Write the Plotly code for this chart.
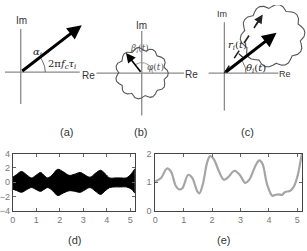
import numpy as np
import plotly.graph_objects as go

# ---------------- data ----------------
# (d) envelope of the dense oscillating signal
t_d = [0.0, 0.15, 0.37, 0.58, 0.79, 0.98, 1.18, 1.33, 1.49, 1.7, 1.91, 2.15, 2.4, 2.62, 2.87, 3.08, 3.29, 3.5, 3.74, 3.93, 4.13, 4.35, 4.6, 4.85, 5.07, 5.24]
d_upper = [0.7, 1.05, 1.5, 1.05, 0.6, 0.95, 1.36, 0.95, 0.6, 1.1, 1.8, 1.45, 0.96, 1.1, 1.36, 1.0, 0.7, 1.2, 1.67, 1.2, 0.6, 0.6, 0.6, 0.62, 1.27, 1.94]
d_lower = [-0.96, -1.15, -1.4, -1.05, -0.74, -1.0, -1.27, -1.0, -0.74, -1.2, -1.85, -1.5, -1.18, -1.25, -1.4, -1.05, -0.74, -1.2, -1.7, -1.2, -0.74, -0.65, -0.65, -0.66, -1.0, -1.6]

# (e) magnitude curve
t_e = [0.0, 0.2, 0.41, 0.55, 0.72, 0.84, 0.95, 1.16, 1.3, 1.47, 1.55, 1.67, 1.83, 1.93, 2.05, 2.22, 2.41, 2.56, 2.79, 2.97, 3.17, 3.31, 3.54, 3.66, 3.77, 3.94, 4.12, 4.23, 4.34, 4.46, 4.57, 4.75, 4.89, 5.02, 5.13, 5.17]
e_vals = [1.03, 1.15, 1.48, 1.37, 0.87, 0.75, 0.79, 1.26, 1.15, 0.70, 0.61, 0.92, 1.71, 1.91, 1.82, 1.43, 1.09, 1.17, 1.40, 1.26, 0.98, 1.09, 1.60, 1.76, 1.65, 0.92, 0.53, 0.56, 0.58, 0.56, 0.66, 0.70, 0.87, 1.26, 1.82, 2.0]

x_ticks = [0, 1, 2, 3, 4, 5]
d_yticks = [-4, -2, 0, 2, 4]
e_yticks = [0, 1, 2]

# phasor vectors (dx, dy) in diagram units, y pointing up
vec_a = [62, 49]
vec_b = [-16, 21]
vec_c = [53, 42]
vec_c_dash = [39, 61]

panel_labels = ["(a)", "(b)", "(c)", "(d)", "(e)"]

# ---------------- layout constants (pixel space of top diagrams) ----------------
W, H = 307, 251
Oa, Ob, Oc = (16, 70), (139, 71), (223, 71)

fig = go.Figure()
shapes = []
ann = []
AX = "#8a8a8a"
TXT = "#333333"
MATH = dict(family="DejaVu Serif, Liberation Serif, serif", size=10, color="#222")
SANS = dict(family="Liberation Sans, Arial, sans-serif", size=10, color=TXT)


def line(x0, y0, x1, y1, color=AX, width=1.3, dash=None):
    shapes.append(dict(type="line", xref="x", yref="y", x0=x0, y0=y0, x1=x1, y1=y1,
                       line=dict(color=color, width=width, dash=dash), layer="below"))


def text(x, y, s, font, **kw):
    ann.append(dict(x=x, y=y, xref="x", yref="y", text=s, showarrow=False, font=font, **kw))


def arrow(o, v, width=3, size=0.95):
    ann.append(dict(x=o[0] + v[0], y=o[1] - v[1], ax=o[0], ay=o[1], xref="x", yref="y",
                    axref="x", ayref="y", text="", showarrow=True, arrowhead=2,
                    arrowwidth=width, arrowsize=size, arrowcolor="#000"))


def arc(o, r, a0, a1, color="#666", width=1):
    th = np.radians(np.linspace(a0, a1, 40))
    fig.add_trace(go.Scatter(x=o[0] + r * np.cos(th), y=o[1] - r * np.sin(th), mode="lines",
                             line=dict(color=color, width=width), xaxis="x", yaxis="y",
                             hoverinfo="skip", showlegend=False))


def cloud(c, R, n, rot=0.0):
    th = np.linspace(0, 2 * np.pi, 500)
    r = R * (0.86 + 0.14 * np.abs(np.sin(n * (th + rot) / 2)))
    fig.add_trace(go.Scatter(x=c[0] + r * np.cos(th), y=c[1] - r * np.sin(th), mode="lines",
                             line=dict(color="#555", width=1.1), xaxis="x", yaxis="y",
                             hoverinfo="skip", showlegend=False))


# ---- (a)
line(0, Oa[1], 76, Oa[1]); line(Oa[0], 25, Oa[0], 103)
arc(Oa, 25, 0, np.degrees(np.arctan2(vec_a[1], vec_a[0])))
arrow(Oa, vec_a)
text(17, 16, "Im", SANS); text(85, 73, "Re", SANS)
text(33, 49, "<i>α<sub>i</sub></i>", MATH)
text(58, 62, "2π<i>f<sub>c</sub></i><i>τ<sub>i</sub></i>", MATH)

# ---- (b)
line(93, Ob[1], 182, Ob[1]); line(Ob[0], 27, Ob[0], 115)
cloud(Ob, 27, 11, 0.3)
arc(Ob, 11, 0, np.degrees(np.arctan2(vec_b[1], vec_b[0])), color="#999")
arrow(Ob, vec_b, width=1.6, size=1.2)
text(139, 21, "Im", SANS); text(190, 72, "Re", SANS)
text(137, 45, "<i>β<sub>i</sub></i>(<i>t</i>)", dict(MATH, color="#555", size=9))
text(153, 65, "<i>φ</i>(<i>t</i>)", dict(MATH, color="#555", size=9))

# ---- (c)
line(207, Oc[1], 278, Oc[1]); line(Oc[0], 18, Oc[0], 110)
cC = (Oc[0] + vec_c[0] - 4, Oc[1] - vec_c[1] + 3)
cloud(cC, 33, 10, 0.2)
arc(Oc, 22, 0, np.degrees(np.arctan2(vec_c[1], vec_c[0])), color="#777")
arc(Oc, 25, np.degrees(np.arctan2(vec_c[1], vec_c[0])) + 3, np.degrees(np.arctan2(vec_c_dash[1], vec_c_dash[0])) - 3, color="#222", width=1.2)
tip = (Oc[0] + vec_c_dash[0], Oc[1] - vec_c_dash[1])
line(Oc[0], Oc[1], Oc[0] + vec_c_dash[0] * 0.9, Oc[1] - vec_c_dash[1] * 0.9, color="#222", width=1.6, dash="dash")
ann.append(dict(x=tip[0], y=tip[1], ax=Oc[0] + vec_c_dash[0] * 0.8, ay=Oc[1] - vec_c_dash[1] * 0.8,
                xref="x", yref="y", axref="x", ayref="y", text="", showarrow=True,
                arrowhead=2, arrowwidth=1.6, arrowsize=1.1, arrowcolor="#222"))
arrow(Oc, vec_c)
text(221, 9, "Im", dict(SANS, size=9)); text(285, 72, "Re", dict(SANS, size=9))
text(236, 42, "<i>r<sub>i</sub></i>(<i>t</i>)", MATH)
text(255, 66, "<i>θ<sub>i</sub></i>(<i>t</i>)", MATH)

# panel labels
lab_font = dict(family="Liberation Sans, Arial, sans-serif", size=11, color=TXT)
for s, (x, y) in zip(panel_labels, [(63, 132), (138, 132), (247, 132), (71, 245), (222, 245)]):
    text(x, y, s, lab_font)

# ---------------- (d) and (e) ----------------
fig.add_trace(go.Scatter(x=t_d + t_d[::-1], y=d_upper + d_lower[::-1], fill="toself",
                         fillcolor="#000", mode="lines", line=dict(color="#000", width=1, shape="spline"),
                         xaxis="x2", yaxis="y2", showlegend=False, hoverinfo="skip"))
fig.add_trace(go.Scatter(x=t_e, y=e_vals, mode="lines",
                         line=dict(color="#a5a5a5", width=2.2, shape="spline"),
                         xaxis="x3", yaxis="y3", showlegend=False, hoverinfo="skip"))

tickfont = dict(family="Liberation Sans, Arial, sans-serif", size=9, color="#777")
frame = dict(showline=True, linecolor="#444", linewidth=1.3, mirror="ticks", ticks="inside",
             ticklen=3, tickcolor="#666", tickfont=tickfont, showgrid=False, zeroline=False)

ydom = [1 - 214.5 / H, 1 - 154.7 / H]
fig.update_layout(
    width=W, height=H, margin=dict(l=0, r=0, t=0, b=0),
    paper_bgcolor="white", plot_bgcolor="rgba(0,0,0,0)", showlegend=False,
    xaxis=dict(domain=[0, 1], range=[0, W], visible=False, fixedrange=True),
    yaxis=dict(domain=[0, 1], range=[H, 0], visible=False, fixedrange=True),
    xaxis2=dict(frame, domain=[8 / W, 132 / W], range=[0, 5.2], tickvals=x_ticks, anchor="y2"),
    yaxis2=dict(frame, domain=ydom, range=[-4, 4], tickvals=d_yticks, anchor="x2"),
    xaxis3=dict(frame, domain=[152 / W, 302 / W], range=[-0.03, 5.17], tickvals=x_ticks, anchor="y3"),
    yaxis3=dict(frame, domain=ydom, range=[0, 2], tickvals=e_yticks, anchor="x3"),
    shapes=shapes, annotations=ann,
)

fig.write_html("out.html")
